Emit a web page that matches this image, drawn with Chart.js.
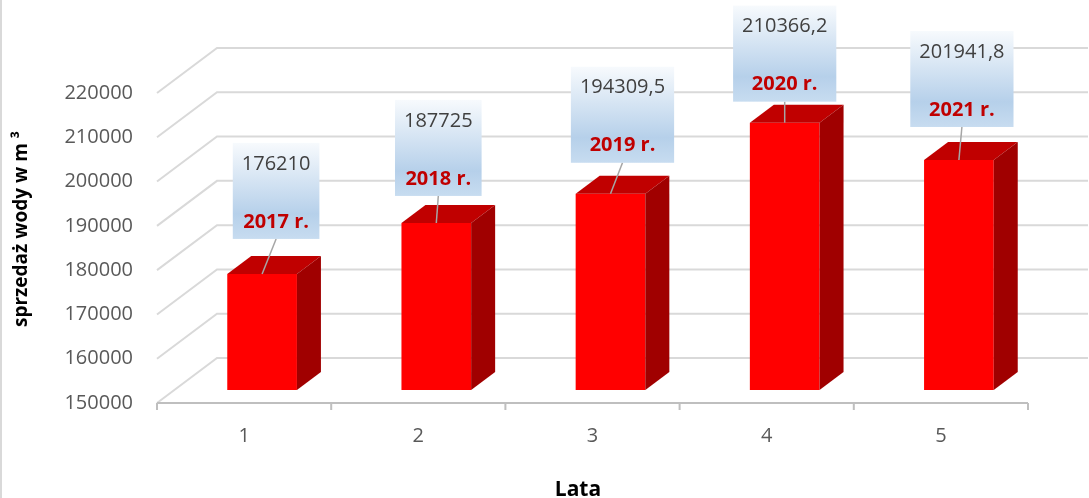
<!DOCTYPE html>
<html>
<head>
<meta charset="utf-8">
<script src="https://cdn.jsdelivr.net/npm/chart.js"></script>
<style>
  html, body { margin: 0; padding: 0; background: #fff; }
  #wrap { width: 1089px; height: 498px; }
</style>
</head>
<body>
<div id="wrap"><canvas id="sales-chart"></canvas></div>
<script>
/* Sprzedaż wody 2017-2021 — 3D-style column chart */

// ---- data ----
const categories = ['1', '2', '3', '4', '5'];
const yearLabels = ['2017 r.', '2018 r.', '2019 r.', '2020 r.', '2021 r.'];
const salesValues = [176210, 187725, 194309.5, 210366.2, 201941.8];
const yMin = 150000;
const yMax = 220000;
const yStep = 10000;

// ---- layout / style (not data) ----
const FONT = "'Open Sans', sans-serif";
const colors = {
  tick: '#595959',
  grid: '#d9d9d9',
  axis: '#bfbfbf',
  front: '#ff0000',
  top: '#c00000',
  side: '#a00000',
  valueText: '#404040',
  yearText: '#c00000',
  leader: '#a6a6a6'
};
// offsets of the front / back planes relative to the plane the bars are drawn in
const FRONT = { dx: -18, dy: 13 };
const BACK = { dx: 42, dy: -32 };
const BAR_DEPTH = { dx: 24, dy: -18 };
// hand-placed data label boxes (shift from bar centre, gap above bar top)
const labelShiftX = [14, 2, 12, 0, 3];
const labelGap = [35, 27, 31, 21, 33];

function formatValue(v) {
  return String(v).replace('.', ',');
}

const walls3d = {
  id: 'walls3d',
  beforeDatasetsDraw(chart) {
    const { ctx, chartArea, scales: { y } } = chart;
    ctx.save();

    // left border of the chart frame
    ctx.strokeStyle = colors.grid;
    ctx.lineWidth = 2;
    ctx.beginPath();
    ctx.moveTo(1, 0);
    ctx.lineTo(1, chart.height);
    ctx.stroke();

    // side wall diagonals + back wall gridlines
    y.ticks.forEach(t => {
      const py = y.getPixelForValue(t.value);
      ctx.beginPath();
      ctx.moveTo(chartArea.left + FRONT.dx, py + FRONT.dy);
      ctx.lineTo(chartArea.left + BACK.dx, py + BACK.dy);
      ctx.lineTo(chartArea.right + BACK.dx, py + BACK.dy);
      ctx.stroke();
    });

    // category axis on the front edge of the floor
    const fy = chartArea.bottom + FRONT.dy;
    const step = (chartArea.right - chartArea.left) / categories.length;
    ctx.strokeStyle = colors.axis;
    ctx.beginPath();
    ctx.moveTo(chartArea.left + FRONT.dx, fy);
    ctx.lineTo(chartArea.right + FRONT.dx, fy);
    for (let i = 0; i <= categories.length; i++) {
      const tx = chartArea.left + FRONT.dx + i * step;
      ctx.moveTo(tx, fy);
      ctx.lineTo(tx, fy + 7);
    }
    ctx.stroke();
    ctx.restore();
  },

  afterDatasetsDraw(chart) {
    const { ctx, chartArea } = chart;
    const meta = chart.getDatasetMeta(0);
    // bars start below the axis minimum, so the visible base is the floor
    const base = chartArea.bottom;
    ctx.save();

    meta.data.forEach((bar, i) => {
      const { x, y, width } = bar.getProps(['x', 'y', 'width'], true);
      const l = x - width / 2;
      const r = x + width / 2;

      // top face
      ctx.fillStyle = colors.top;
      ctx.beginPath();
      ctx.moveTo(l, y);
      ctx.lineTo(r, y);
      ctx.lineTo(r + BAR_DEPTH.dx, y + BAR_DEPTH.dy);
      ctx.lineTo(l + BAR_DEPTH.dx, y + BAR_DEPTH.dy);
      ctx.closePath();
      ctx.fill();

      // side face
      ctx.fillStyle = colors.side;
      ctx.beginPath();
      ctx.moveTo(r, y);
      ctx.lineTo(r + BAR_DEPTH.dx, y + BAR_DEPTH.dy);
      ctx.lineTo(r + BAR_DEPTH.dx, base + BAR_DEPTH.dy);
      ctx.lineTo(r, base);
      ctx.closePath();
      ctx.fill();

      // data label box
      const valueText = formatValue(salesValues[i]);
      ctx.font = `20px ${FONT}`;
      const w1 = ctx.measureText(valueText).width;
      ctx.font = `bold 20px ${FONT}`;
      const w2 = ctx.measureText(yearLabels[i]).width;
      const bw = Math.max(w1, w2) + 18;
      const bh = 96;
      const cx = x + labelShiftX[i];
      const bottom = y - labelGap[i];
      const top = bottom - bh;

      ctx.strokeStyle = colors.leader;
      ctx.lineWidth = 1.5;
      ctx.beginPath();
      ctx.moveTo(cx, bottom);
      ctx.lineTo(x, y);
      ctx.stroke();

      const grad = ctx.createLinearGradient(0, top, 0, bottom);
      grad.addColorStop(0, '#f7fafd');
      grad.addColorStop(0.74, '#b6d0ea');
      grad.addColorStop(1, '#c7dcf0');
      ctx.fillStyle = grad;
      ctx.fillRect(cx - bw / 2, top, bw, bh);

      ctx.textAlign = 'center';
      ctx.textBaseline = 'middle';
      ctx.font = `20px ${FONT}`;
      ctx.fillStyle = colors.valueText;
      ctx.fillText(valueText, cx, top + 21);
      ctx.font = `bold 20px ${FONT}`;
      ctx.fillStyle = colors.yearText;
      ctx.fillText(yearLabels[i], cx, top + 79);
    });
    ctx.restore();
  },

  afterDraw(chart) {
    const { ctx } = chart;
    ctx.save();
    ctx.fillStyle = '#000';
    ctx.textAlign = 'center';

    // value axis title
    ctx.translate(22, 229);
    ctx.rotate(-Math.PI / 2);
    ctx.textBaseline = 'middle';
    ctx.font = `bold 19px ${FONT}`;
    ctx.fillText('sprzedaż wody w m ³', 0, 0);
    ctx.setTransform(1, 0, 0, 1, 0, 0);

    // category axis title
    ctx.textBaseline = 'alphabetic';
    ctx.font = `bold 21px ${FONT}`;
    ctx.fillText('Lata', 578, 496);
    ctx.restore();
  }
};

const ctx = document.getElementById('sales-chart').getContext('2d');
const salesChart = new Chart(ctx, {
  type: 'bar',
  data: {
    labels: categories,
    datasets: [{
      label: 'sprzedaż wody w m³',
      data: salesValues,
      backgroundColor: colors.front,
      borderWidth: 0,
      categoryPercentage: 1,
      barPercentage: 0.4
    }]
  },
  options: {
    responsive: true,
    maintainAspectRatio: false,
    animation: false,
    layout: { padding: { left: 0, top: 80, right: 43, bottom: 0 } },
    plugins: {
      legend: { display: false },
      tooltip: { enabled: false }
    },
    scales: {
      x: {
        grid: { display: false, drawTicks: false },
        border: { display: false },
        ticks: {
          color: colors.tick,
          font: { family: FONT, size: 20 },
          padding: 34,
          labelOffset: -18,
          maxRotation: 0
        },
        afterFit(scale) { scale.height = 108; }
      },
      y: {
        min: yMin,
        max: yMax,
        grid: { display: false, drawTicks: false },
        border: { display: false },
        ticks: {
          stepSize: yStep,
          color: colors.tick,
          font: { family: FONT, size: 20 },
          padding: 42,
          labelOffset: 13,
          callback: v => String(v)
        },
        afterFit(scale) { scale.width = 175; }
      }
    }
  },
  plugins: [walls3d]
});
</script>
</body>
</html>
